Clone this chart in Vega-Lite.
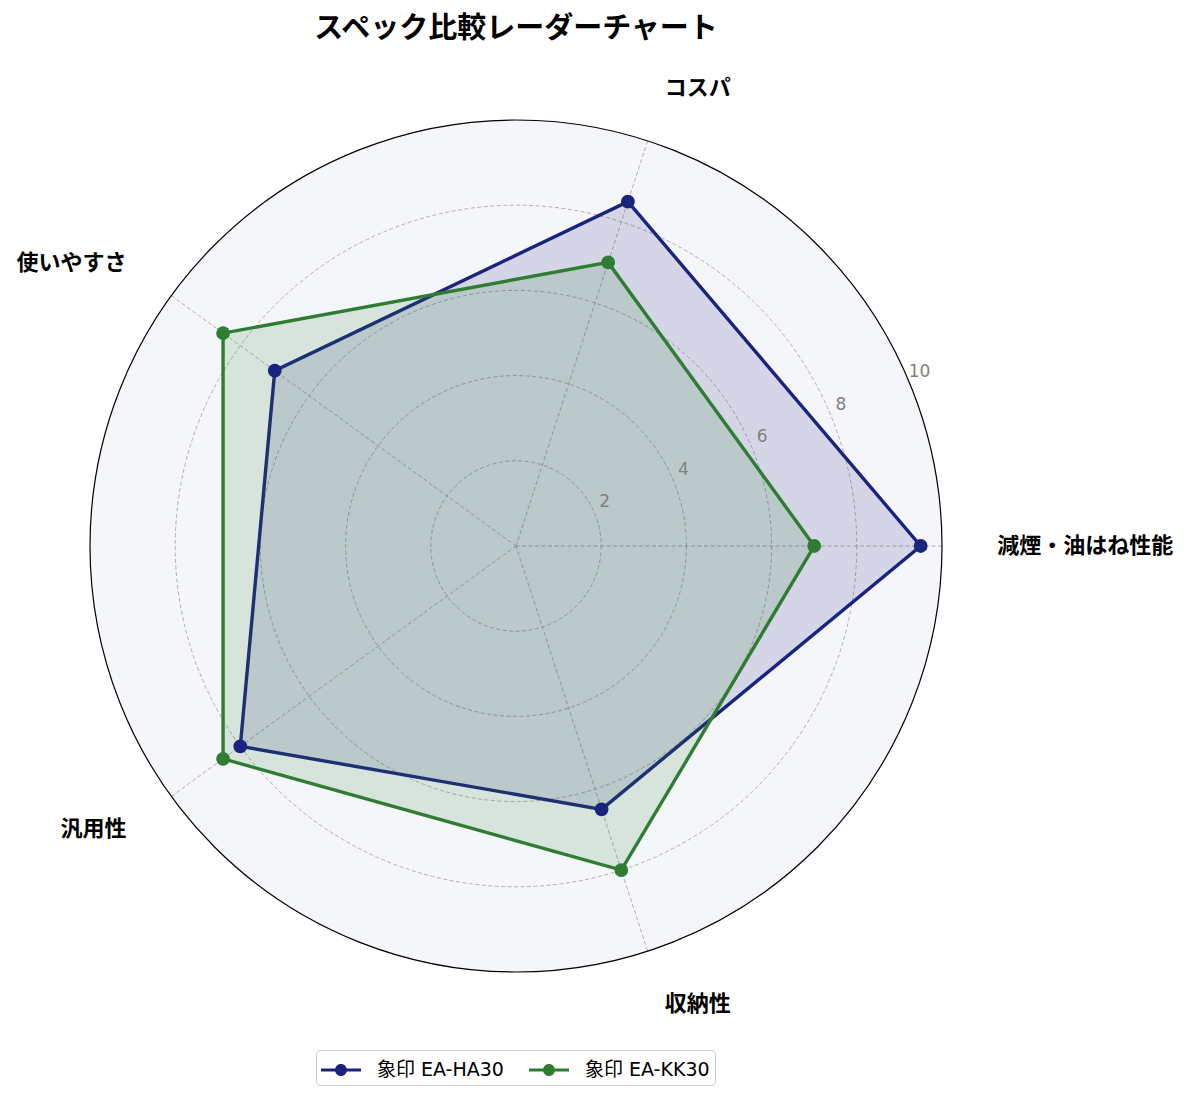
{
  "$schema": "https://vega.github.io/schema/vega-lite/v6.json",
  "width": 1192,
  "height": 1100,
  "autosize": "none",
  "padding": 0,
  "background": "white",
  "config": {
    "view": {"stroke": null},
    "font": "Noto Sans CJK JP"
  },
  "title": {
    "text": "スペック比較レーダーチャート",
    "anchor": "middle",
    "dx": -80,
    "offset": -44,
    "fontSize": 29,
    "fontWeight": "bold",
    "font": "Noto Sans CJK JP",
    "color": "black"
  },
  "datasets": {
    "scores": [
      {"axis": "減煙・油はね性能", "idx": 0, "model": "象印 EA-HA30", "value": 9.5},
      {"axis": "コスパ", "idx": 1, "model": "象印 EA-HA30", "value": 8.5},
      {"axis": "使いやすさ", "idx": 2, "model": "象印 EA-HA30", "value": 7},
      {"axis": "汎用性", "idx": 3, "model": "象印 EA-HA30", "value": 8},
      {"axis": "収納性", "idx": 4, "model": "象印 EA-HA30", "value": 6.5},
      {"axis": "減煙・油はね性能", "idx": 0, "model": "象印 EA-KK30", "value": 7},
      {"axis": "コスパ", "idx": 1, "model": "象印 EA-KK30", "value": 7},
      {"axis": "使いやすさ", "idx": 2, "model": "象印 EA-KK30", "value": 8.5},
      {"axis": "汎用性", "idx": 3, "model": "象印 EA-KK30", "value": 8.5},
      {"axis": "収納性", "idx": 4, "model": "象印 EA-KK30", "value": 8}
    ],
    "axes": [
      {"axis": "減煙・油はね性能", "idx": 0},
      {"axis": "コスパ", "idx": 1},
      {"axis": "使いやすさ", "idx": 2},
      {"axis": "汎用性", "idx": 3},
      {"axis": "収納性", "idx": 4}
    ],
    "rings": [{"r": 2}, {"r": 4}, {"r": 6}, {"r": 8}, {"r": 10}]
  },
  "layer": [
    {
      "data": {"name": "rings"},
      "transform": [{"filter": "datum.r == 10"}],
      "mark": {"type": "point", "shape": "circle", "filled": true, "fill": "#f5f6fa", "opacity": 1, "strokeWidth": 0},
      "encoding": {
        "x": {"datum": 0, "type": "quantitative", "scale": {"domain": [-12.113, 15.869], "nice": false, "zero": false}, "axis": null},
        "y": {"datum": 0, "type": "quantitative", "scale": {"domain": [-13.005, 12.817], "nice": false, "zero": false}, "axis": null},
        "size": {"field": "r", "type": "quantitative", "legend": null, "scale": {"type": "pow", "exponent": 2, "domain": [0, 10], "range": [0, 725904]}}
      }
    },
    {
      "data": {"name": "rings"},
      "transform": [{"filter": "datum.r < 10"}],
      "mark": {"type": "point", "shape": "circle", "filled": false, "stroke": "#9e9e9e", "strokeWidth": 0.8, "strokeDash": [4, 2.5], "opacity": 1},
      "encoding": {
        "x": {"datum": 0, "type": "quantitative", "axis": null},
        "y": {"datum": 0, "type": "quantitative", "axis": null},
        "size": {"field": "r", "type": "quantitative", "legend": null}
      }
    },
    {
      "data": {"name": "axes"},
      "transform": [
        {"calculate": "datum.idx * 2 * PI / 5", "as": "a"},
        {"calculate": "10 * cos(datum.a)", "as": "ex"},
        {"calculate": "10 * sin(datum.a)", "as": "ey"}
      ],
      "mark": {"type": "rule", "stroke": "#9e9e9e", "strokeWidth": 0.8, "strokeDash": [4, 2.5]},
      "encoding": {
        "x": {"field": "ex", "type": "quantitative", "axis": null},
        "y": {"field": "ey", "type": "quantitative", "axis": null},
        "x2": {"datum": 0},
        "y2": {"datum": 0}
      }
    },
    {
      "data": {"name": "scores"},
      "transform": [
        {"calculate": "datum.idx * 2 * PI / 5", "as": "a"},
        {"calculate": "datum.value * cos(datum.a)", "as": "px"},
        {"calculate": "datum.value * sin(datum.a)", "as": "py"}
      ],
      "layer": [
        {
          "mark": {"type": "line", "interpolate": "linear-closed", "strokeWidth": 3.4, "fillOpacity": 0.15},
          "encoding": {
            "x": {"field": "px", "type": "quantitative", "axis": null},
            "y": {"field": "py", "type": "quantitative", "axis": null},
            "order": {"field": "idx", "type": "quantitative"},
            "color": {"field": "model", "type": "nominal", "scale": {"domain": ["象印 EA-HA30", "象印 EA-KK30"], "range": ["#1a237e", "#2e7d32"]}},
            "fill": {"field": "model", "type": "nominal", "legend": null, "scale": {"domain": ["象印 EA-HA30", "象印 EA-KK30"], "range": ["#1a237e", "#2e7d32"]}}
          }
        },
        {
          "mark": {"type": "point", "shape": "circle", "filled": true, "size": 190, "opacity": 1},
          "encoding": {
            "x": {"field": "px", "type": "quantitative", "axis": null},
            "y": {"field": "py", "type": "quantitative", "axis": null},
            "color": {
              "field": "model",
              "type": "nominal",
              "legend": {
                "orient": "none",
                "legendX": 316,
                "legendY": 1050,
                "direction": "horizontal",
                "title": null,
                "strokeColor": "#cccccc",
                "fillColor": "white",
                "cornerRadius": 4,
                "padding": 5,
                "labelFontSize": 19,
                "labelFont": "DejaVu Sans, Noto Sans CJK JP",
                "labelColor": "black",
                "labelOffset": 26,
                "columnPadding": 25,
                "symbolType": "M-1,-0.1H1.667V0.1H-1Z M0.733,0 A0.4,0.4 0 1 1 -0.067,0 A0.4,0.4 0 1 1 0.733,0Z",
                "symbolSize": 900,
                "symbolStrokeWidth": 0,
                "symbolOpacity": 1,
                "encode": {"symbols": {"update": {"fill": {"scale": "color", "field": "value"}, "fillOpacity": {"value": 1}}}}
              }
            }
          }
        }
      ]
    },
    {
      "data": {"name": "rings"},
      "transform": [{"filter": "datum.r == 10"}],
      "mark": {"type": "point", "shape": "circle", "filled": false, "stroke": "black", "strokeWidth": 1.2, "opacity": 1},
      "encoding": {
        "x": {"datum": 0, "type": "quantitative", "axis": null},
        "y": {"datum": 0, "type": "quantitative", "axis": null},
        "size": {"field": "r", "type": "quantitative", "legend": null}
      }
    },
    {
      "data": {"name": "rings"},
      "transform": [
        {"calculate": "datum.r * cos(PI / 8)", "as": "tx"},
        {"calculate": "datum.r * sin(PI / 8)", "as": "ty"}
      ],
      "mark": {"type": "text", "fontSize": 17, "font": "DejaVu Sans", "color": "#808080", "align": "center", "baseline": "middle", "dx": 10, "dy": -11},
      "encoding": {
        "x": {"field": "tx", "type": "quantitative", "axis": null},
        "y": {"field": "ty", "type": "quantitative", "axis": null},
        "text": {"field": "r", "type": "quantitative"}
      }
    },
    {
      "data": {"name": "axes"},
      "transform": [
        {"calculate": "datum.idx * 2 * PI / 5", "as": "a"},
        {"calculate": "11.3 * cos(datum.a)", "as": "lx"},
        {"calculate": "11.3 * sin(datum.a)", "as": "ly"},
        {"filter": "datum.lx > 0"}
      ],
      "mark": {"type": "text", "fontSize": 22, "fontWeight": "bold", "color": "black", "align": "left", "baseline": "middle"},
      "encoding": {
        "x": {"field": "lx", "type": "quantitative", "axis": null},
        "y": {"field": "ly", "type": "quantitative", "axis": null},
        "text": {"field": "axis", "type": "nominal"}
      }
    },
    {
      "data": {"name": "axes"},
      "transform": [
        {"calculate": "datum.idx * 2 * PI / 5", "as": "a"},
        {"calculate": "11.3 * cos(datum.a)", "as": "lx"},
        {"calculate": "11.3 * sin(datum.a)", "as": "ly"},
        {"filter": "datum.lx < 0"}
      ],
      "mark": {"type": "text", "fontSize": 22, "fontWeight": "bold", "color": "black", "align": "right", "baseline": "middle"},
      "encoding": {
        "x": {"field": "lx", "type": "quantitative", "axis": null},
        "y": {"field": "ly", "type": "quantitative", "axis": null},
        "text": {"field": "axis", "type": "nominal"}
      }
    }
  ]
}
